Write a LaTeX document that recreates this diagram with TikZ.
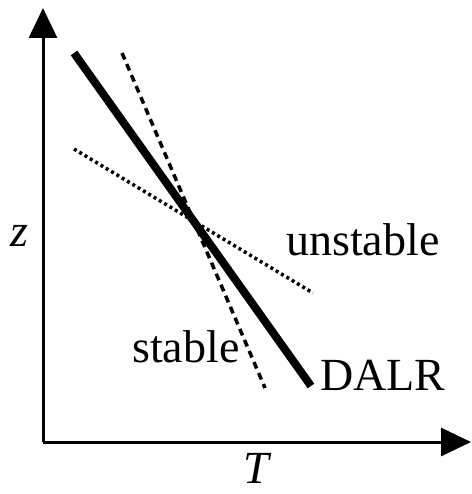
\documentclass[tikz,border=0pt]{standalone}
\usepackage{fontspec}
\setmainfont{Liberation Serif}
\usetikzlibrary{arrows.meta}

\begin{document}
\begin{tikzpicture}[x=1pt,y=-1pt,
    axis/.style={line width=3pt,-{Triangle[length=30pt,width=28pt]}},
    dalr/.style={line width=8pt},
    stableline/.style={line width=3.5pt,dash pattern=on 7pt off 5pt},
    unstableline/.style={line width=3.5pt,dash pattern=on 3pt off 3.2pt},
    lbl/.style={inner sep=0pt,font=\fontsize{46}{50}\selectfont}]
    \useasboundingbox (0,0) rectangle (471,494);

    % axes
    \coordinate (origin) at (43,442);
    \coordinate (ztop) at (43,8);
    \coordinate (tend) at (471,442);
    \draw[axis] (origin) -- (ztop);
    \draw[axis] (origin) -- (tend);

    % lapse rates
    \coordinate (dalrtop) at (74,53);
    \coordinate (dalrbot) at (311,386);
    \coordinate (stabletop) at (122,53);
    \coordinate (stablebot) at (265,388);
    \coordinate (unstabletop) at (74,149);
    \coordinate (unstablebot) at (313,293);

    \draw[dalr] (dalrtop) -- (dalrbot);
    \draw[stableline] (stabletop) -- (stablebot);
    \draw[unstableline] (unstabletop) -- (unstablebot);

    % labels
    \node[lbl,anchor=center] (zlabel) at (19,236) {\itshape z};
    \node[lbl,anchor=base] (tlabel) at (256,483) {\itshape T};
    \node[lbl,anchor=base west] (unstablelabel) at (286,255) {unstable};
    \node[lbl,anchor=base west] (stablelabel) at (132,362) {stable};
    \node[lbl,anchor=base west] (dalrlabel) at (320,390) {DALR};
\end{tikzpicture}
\end{document}
